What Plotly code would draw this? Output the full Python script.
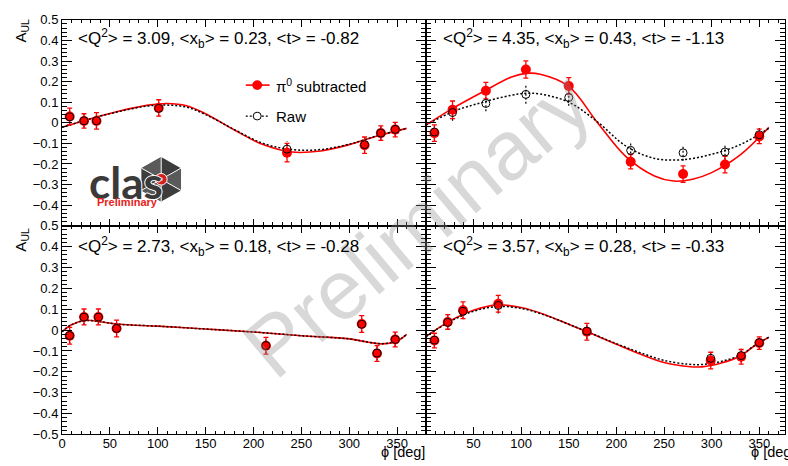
import math
import plotly.graph_objects as go

# ---------------- data ----------------
# Panel kinematics
panel_titles = [
    "&lt;Q<sup>2</sup>&gt; = 3.09, &lt;x<sub>b</sub>&gt; = 0.23, &lt;t&gt; = -0.82",
    "&lt;Q<sup>2</sup>&gt; = 4.35, &lt;x<sub>b</sub>&gt; = 0.43, &lt;t&gt; = -1.13",
    "&lt;Q<sup>2</sup>&gt; = 2.73, &lt;x<sub>b</sub>&gt; = 0.18, &lt;t&gt; = -0.28",
    "&lt;Q<sup>2</sup>&gt; = 3.57, &lt;x<sub>b</sub>&gt; = 0.28, &lt;t&gt; = -0.33",
]

# Top-left bin
tl_phi = [8, 23, 36, 101, 235, 316, 333, 348]
tl_sub = [0.031, 0.009, 0.009, 0.072, -0.145, -0.109, -0.050, -0.033]
tl_sub_err = [0.040, 0.035, 0.040, 0.040, 0.045, 0.040, 0.035, 0.035]
tl_raw = [0.029, 0.010, 0.010, 0.070, -0.128, -0.106, -0.050, -0.032]
tl_raw_err = [0.038, 0.033, 0.038, 0.038, 0.040, 0.038, 0.033, 0.033]
tl_fit_phi = [0, 30, 60, 90, 110, 130, 150, 180, 210, 240, 270, 300, 330, 360]
tl_fit_sub = [-0.022, 0.020, 0.057, 0.086, 0.094, 0.083, 0.044, -0.035, -0.106, -0.142, -0.137, -0.106, -0.063, -0.027]
tl_fit_raw = [-0.022, 0.020, 0.055, 0.082, 0.086, 0.076, 0.040, -0.033, -0.100, -0.130, -0.130, -0.104, -0.062, -0.027]

# Top-right bin
tr_phi = [9, 28, 63, 105, 150, 215, 270, 314, 350]
tr_sub = [-0.050, 0.063, 0.156, 0.259, 0.179, -0.189, -0.249, -0.203, -0.066]
tr_sub_err = [0.040, 0.043, 0.040, 0.042, 0.040, 0.035, 0.040, 0.040, 0.035]
tr_raw = [-0.045, 0.050, 0.094, 0.138, 0.123, -0.134, -0.146, -0.142, -0.058]
tr_raw_err = [0.038, 0.040, 0.038, 0.045, 0.040, 0.035, 0.038, 0.038, 0.033]
tr_fit_sub_phi = [0, 30, 60, 90, 105, 120, 150, 180, 210, 240, 260, 280, 300, 330, 360]
tr_fit_sub = [-0.011, 0.075, 0.151, 0.222, 0.240, 0.236, 0.177, 0.002, -0.164, -0.258, -0.283, -0.274, -0.242, -0.156, -0.022]
tr_fit_raw_phi = [0, 30, 60, 90, 105, 120, 150, 180, 210, 240, 270, 300, 330, 360]
tr_fit_raw = [-0.011, 0.057, 0.100, 0.134, 0.143, 0.140, 0.100, 0.005, -0.113, -0.173, -0.179, -0.153, -0.106, -0.027]

# Bottom-left bin
bl_phi = [8, 23, 38, 57, 213, 313, 329, 348]
bl_sub = [-0.027, 0.063, 0.063, 0.008, -0.075, 0.029, -0.112, -0.045]
bl_sub_err = [0.040, 0.038, 0.038, 0.040, 0.040, 0.040, 0.038, 0.035]
bl_raw = [-0.026, 0.062, 0.062, 0.008, -0.074, 0.028, -0.110, -0.045]
bl_raw_err = [0.038, 0.036, 0.036, 0.038, 0.038, 0.038, 0.036, 0.033]
bl_fit_phi = [0, 10, 25, 40, 60, 100, 150, 200, 250, 300, 320, 335, 350, 360]
bl_fit_sub = [-0.008, 0.026, 0.047, 0.040, 0.028, 0.019, 0.005, -0.009, -0.027, -0.042, -0.058, -0.066, -0.052, -0.020]
bl_fit_raw = [-0.008, 0.026, 0.046, 0.040, 0.028, 0.019, 0.005, -0.009, -0.027, -0.042, -0.058, -0.065, -0.051, -0.020]

# Bottom-right bin
br_phi = [9, 23, 39, 76, 169, 299, 331, 350]
br_sub = [-0.050, 0.039, 0.095, 0.126, -0.008, -0.146, -0.128, -0.062]
br_sub_err = [0.035, 0.035, 0.040, 0.040, 0.040, 0.040, 0.035, 0.030]
br_raw = [-0.048, 0.037, 0.090, 0.118, -0.005, -0.135, -0.122, -0.060]
br_raw_err = [0.033, 0.033, 0.038, 0.038, 0.038, 0.038, 0.033, 0.028]
br_fit_phi = [0, 25, 50, 75, 100, 125, 150, 175, 200, 225, 250, 275, 290, 310, 330, 345, 360]
br_fit_sub = [-0.031, 0.043, 0.095, 0.121, 0.108, 0.074, 0.028, -0.019, -0.068, -0.115, -0.155, -0.174, -0.176, -0.158, -0.124, -0.075, -0.034]
br_fit_raw = [-0.031, 0.040, 0.090, 0.113, 0.104, 0.072, 0.028, -0.018, -0.065, -0.108, -0.145, -0.163, -0.165, -0.150, -0.120, -0.074, -0.034]

# Axis ticks
x_tickvals = [0, 50, 100, 150, 200, 250, 300, 350]
x_ticktext = ["0", "50", "100", "150", "200", "250", "300", "350"]
y_tickvals = [-0.5, -0.4, -0.3, -0.2, -0.1, 0, 0.1, 0.2, 0.3, 0.4, 0.5]
y_ticktext = ["\u22120.5", "\u22120.4", "\u22120.3", "\u22120.2", "\u22120.1", "0",
              "0.1", "0.2", "0.3", "0.4", "0.5"]

# ---------------- styling / layout helpers ----------------
W, H = 788, 466
FONT = "Liberation Sans, Arial, sans-serif"
RED = "#ff0000"


def px(x):
    return x / W


def py(y):
    return 1 - y / H


# x domains (left, right) and y domains (top, bottom)
x_dom = [[px(58.3), px(424)], [px(424), px(785)]]
x_rng = [[0, 380], [0, 377]]
y_dom = [[py(226), py(13.3)], [py(441.7), py(226)]]

fig = go.Figure()

panels = [
    (tl_phi, tl_sub, tl_sub_err, tl_raw, tl_raw_err, tl_fit_phi, tl_fit_sub, tl_fit_phi, tl_fit_raw),
    (tr_phi, tr_sub, tr_sub_err, tr_raw, tr_raw_err, tr_fit_sub_phi, tr_fit_sub, tr_fit_raw_phi, tr_fit_raw),
    (bl_phi, bl_sub, bl_sub_err, bl_raw, bl_raw_err, bl_fit_phi, bl_fit_sub, bl_fit_phi, bl_fit_raw),
    (br_phi, br_sub, br_sub_err, br_raw, br_raw_err, br_fit_phi, br_fit_sub, br_fit_phi, br_fit_raw),
]

layout_axes = {}
for i, (phi, sub, sub_err, raw, raw_err, fphi_s, fsub, fphi_r, fraw) in enumerate(panels):
    row, col = divmod(i, 2)
    n = i + 1
    xa = "x" if n == 1 else f"x{n}"
    ya = "y" if n == 1 else f"y{n}"

    # fitted curves
    fig.add_trace(go.Scatter(x=fphi_s, y=fsub, mode="lines", xaxis=xa, yaxis=ya,
                             line=dict(color=RED, width=1.6, shape="spline", smoothing=1.0),
                             showlegend=False, hoverinfo="skip"))
    fig.add_trace(go.Scatter(x=fphi_r, y=fraw, mode="lines", xaxis=xa, yaxis=ya,
                             line=dict(color="black", width=1.5, dash="2px,2px",
                                       shape="spline", smoothing=1.0),
                             showlegend=False, hoverinfo="skip"))

    # dotted error bars of the raw asymmetry
    ex, ey = [], []
    for p, v, e in zip(phi, raw, raw_err):
        ex += [p, p, None]
        ey += [v - e, v + e, None]
    fig.add_trace(go.Scatter(x=ex, y=ey, mode="lines", xaxis=xa, yaxis=ya,
                             line=dict(color="black", width=1.2, dash="2px,2px"),
                             showlegend=False, hoverinfo="skip"))

    # pi0-subtracted points
    fig.add_trace(go.Scatter(x=phi, y=sub, mode="markers", xaxis=xa, yaxis=ya,
                             marker=dict(color=RED, size=10, symbol="circle",
                                         line=dict(width=0)),
                             error_y=dict(type="data", array=sub_err, color=RED,
                                          thickness=1.3, width=2.5),
                             showlegend=False))
    # raw points
    fig.add_trace(go.Scatter(x=phi, y=raw, mode="markers", xaxis=xa, yaxis=ya,
                             marker=dict(color="black", size=8, symbol="circle-open",
                                         line=dict(width=1, color="black")),
                             showlegend=False))

    bottom = row == 1
    left = col == 0
    xkey = "xaxis" if n == 1 else f"xaxis{n}"
    ykey = "yaxis" if n == 1 else f"yaxis{n}"

    if bottom and left:
        xv, xt = x_tickvals, x_ticktext
    else:
        xv, xt = x_tickvals[1:], x_ticktext[1:]
    if left and bottom:
        yv, yt = y_tickvals, y_ticktext
    else:
        yv, yt = y_tickvals[1:], y_ticktext[1:]

    layout_axes[xkey] = dict(
        domain=x_dom[col], range=x_rng[col], anchor=ya,
        showline=True, linecolor="black", linewidth=1, mirror="allticks",
        ticks="inside", ticklen=7, tickwidth=1, tickcolor="black",
        tickvals=xv, ticktext=xt, showticklabels=bottom, ticklabelstandoff=-3,
        tickfont=dict(family=FONT, size=13, color="black"),
        minor=dict(ticks="inside", ticklen=3.5, tick0=0, dtick=10,
                   tickcolor="black", tickwidth=1),
        showgrid=False, zeroline=False, fixedrange=True,
    )
    layout_axes[ykey] = dict(
        domain=y_dom[row], range=[-0.5, 0.5], anchor=xa,
        showline=True, linecolor="black", linewidth=1, mirror="allticks",
        ticks="inside", ticklen=10, tickwidth=1, tickcolor="black",
        tickvals=yv, ticktext=yt, showticklabels=left,
        tickfont=dict(family=FONT, size=13, color="black"),
        minor=dict(ticks="inside", ticklen=5, tick0=-0.5, dtick=0.02,
                   tickcolor="black", tickwidth=1),
        showgrid=False, zeroline=False, fixedrange=True,
    )

annotations = []

# watermark (drawn first so the remaining labels sit on top)
annotations.append(dict(x=px(415), y=py(225), xref="paper", yref="paper",
                        xanchor="center", yanchor="middle", showarrow=False, textangle=-40,
                        text="Preliminary",
                        font=dict(family=FONT, size=84, color="rgba(140,140,140,0.34)")))

# bin labels
title_pos = [(72, 33), (439, 33), (72, 247), (439, 247)]
for (tx, ty), txt in zip(title_pos, panel_titles):
    annotations.append(dict(x=px(tx), y=py(ty), xref="paper", yref="paper",
                            xanchor="left", yanchor="middle", showarrow=False,
                            text=txt, font=dict(family=FONT, size=17, color="black")))

# axis titles
for ty in (10, 226):
    annotations.append(dict(x=px(18), y=py(ty), xref="paper", yref="paper",
                            xanchor="center", yanchor="top", showarrow=False, textangle=-90,
                            text="A<sub>UL</sub>", font=dict(family=FONT, size=15, color="black")))
for tx in (425, 797):
    annotations.append(dict(x=px(tx), y=py(459.5), xref="paper", yref="paper",
                            xanchor="right", yanchor="middle", showarrow=False,
                            text="\u03d5 [deg]", font=dict(family=FONT, size=14.5, color="black")))

# legend
annotations.append(dict(x=px(271), y=py(80.7), xref="paper", yref="paper",
                        xanchor="left", yanchor="middle", showarrow=False,
                        text="\u03c0<sup>0</sup> subtracted",
                        font=dict(family=FONT, size=15, color="black")))
annotations.append(dict(x=px(271), y=py(112.7), xref="paper", yref="paper",
                        xanchor="left", yanchor="middle", showarrow=False,
                        text="Raw", font=dict(family=FONT, size=15, color="black")))

# CLAS logo text
annotations.append(dict(x=px(123), y=py(181), xref="paper", yref="paper",
                        xanchor="center", yanchor="middle", showarrow=False,
                        text="clas", font=dict(family="Lato, sans-serif", size=44,
                                               color="#3a3a3a", weight=700,
                                               shadow="1px 0 0 white, -1px 0 0 white, 0 1px 0 white, 0 -1px 0 white")))
annotations.append(dict(x=px(124), y=py(202), xref="paper", yref="paper",
                        xanchor="center", yanchor="middle", showarrow=False,
                        text="<b>Preliminary</b>", font=dict(family=FONT, size=11, color="#e8221c")))

shapes = []
# legend symbols
shapes.append(dict(type="line", xref="paper", yref="paper",
                   x0=px(243), x1=px(267), y0=py(80.7), y1=py(80.7),
                   line=dict(color=RED, width=1.6)))
shapes.append(dict(type="circle", xref="paper", yref="paper",
                   x0=px(249.5), x1=px(259.5), y0=py(85.7), y1=py(75.7),
                   fillcolor=RED, line=dict(color=RED, width=0)))
shapes.append(dict(type="line", xref="paper", yref="paper",
                   x0=px(243), x1=px(267), y0=py(112.7), y1=py(112.7),
                   line=dict(color="black", width=1.2, dash="2px,2px")))
shapes.append(dict(type="circle", xref="paper", yref="paper",
                   x0=px(250.5), x1=px(258.5), y0=py(116.7), y1=py(108.7),
                   fillcolor="white", line=dict(color="black", width=1)))

# CLAS logo hexagon
cx, cy, R = 158, 178, 23
verts = [(cx + R * math.cos(math.radians(90 + 60 * k)), cy - R * math.sin(math.radians(90 + 60 * k)))
         for k in range(6)]
path = "M " + " L ".join(f"{px(vx):.5f},{py(vy):.5f}" for vx, vy in verts) + " Z"
shapes.append(dict(type="path", xref="paper", yref="paper", path=path,
                   fillcolor="#3d3d3d", line=dict(color="#3d3d3d", width=0), layer="above"))
# lighter facets
for k in (0, 2, 4):
    v1 = verts[k]
    v2 = verts[(k + 1) % 6]
    fpath = (f"M {px(cx):.5f},{py(cy):.5f} L {px(v1[0]):.5f},{py(v1[1]):.5f} "
             f"L {px(v2[0]):.5f},{py(v2[1]):.5f} Z")
    shapes.append(dict(type="path", xref="paper", yref="paper", path=fpath,
                       fillcolor="#5a5a5a", line=dict(width=0), layer="above"))
for vx, vy in verts:
    shapes.append(dict(type="line", xref="paper", yref="paper",
                       x0=px(cx), y0=py(cy), x1=px(vx), y1=py(vy),
                       line=dict(color="white", width=1), layer="above"))
shapes.append(dict(type="circle", xref="paper", yref="paper",
                   x0=px(cx - 6), x1=px(cx + 6), y0=py(cy + 6), y1=py(cy - 6),
                   fillcolor="#d81e1e", line=dict(color="white", width=1), layer="above"))
shapes.append(dict(type="circle", xref="paper", yref="paper",
                   x0=px(cx - 2), x1=px(cx + 2), y0=py(cy + 2), y1=py(cy - 2),
                   fillcolor="#f08080", line=dict(width=0), layer="above"))

fig.update_layout(
    width=W, height=H,
    margin=dict(l=0, r=0, t=0, b=0),
    paper_bgcolor="white", plot_bgcolor="white",
    font=dict(family=FONT, color="black"),
    showlegend=False,
    annotations=annotations,
    shapes=shapes,
    **layout_axes,
)

fig.write_html("out.html")
